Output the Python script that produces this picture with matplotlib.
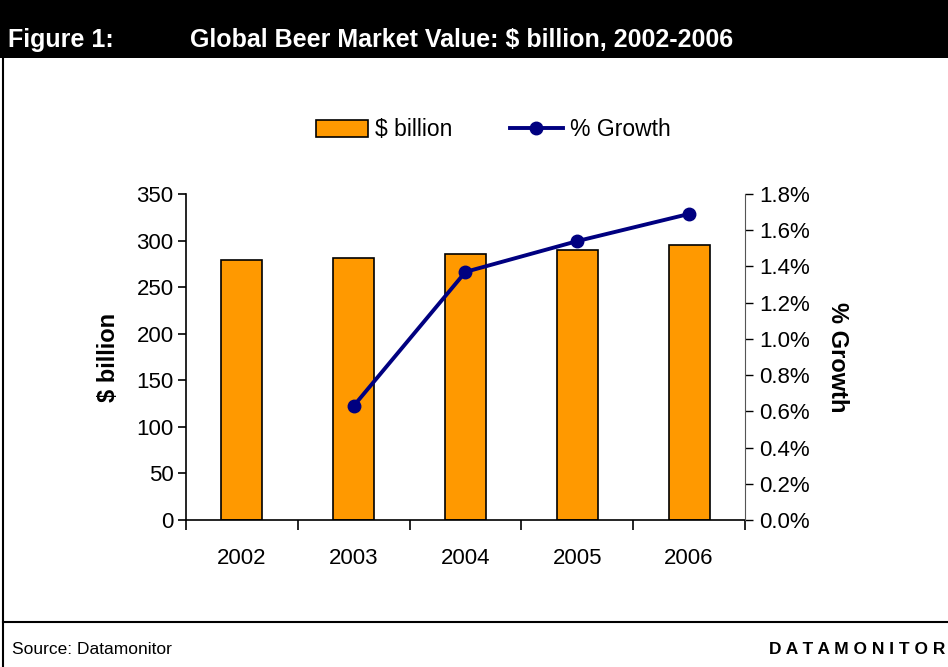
import matplotlib.pyplot as plt
from matplotlib.lines import Line2D
from matplotlib.patches import Rectangle
from matplotlib.ticker import FuncFormatter

plt.rcParams['font.family'] = ['Liberation Sans', 'DejaVu Sans']

# data
years = ['2002', '2003', '2004', '2005', '2006']
value_bn = [279.5, 281.5, 285.5, 289.5, 295.5]
growth_years = ['2003', '2004', '2005', '2006']
growth_pct = [0.63, 1.37, 1.54, 1.69]

W, H = 948, 667
fig = plt.figure(figsize=(W / 100, H / 100), dpi=100)

# header bar + frame
fig.patches.append(Rectangle((0, 1 - 58 / H), 1, 58 / H, transform=fig.transFigure,
                             facecolor='black', edgecolor='none', zorder=0))
fig.text(8 / W, 1 - 40 / H, 'Figure 1:', color='white', fontsize=18, fontweight='bold', va='center')
fig.text(190 / W, 1 - 40 / H, 'Global Beer Market Value: $ billion, 2002-2006', color='white',
         fontsize=18, fontweight='bold', va='center')
fig.lines.append(Line2D([3 / W, 3 / W], [0, 1 - 58 / H], transform=fig.transFigure, color='black', lw=1.5))
fig.lines.append(Line2D([3 / W, 1], [1 - 622 / H, 1 - 622 / H], transform=fig.transFigure, color='black', lw=1.5))
fig.text(12 / W, 1 - 650 / H, 'Source: Datamonitor', fontsize=12.5, va='center')
fig.text(945 / W, 1 - 650 / H, 'D A T A M O N I T O R', fontsize=12.5, fontweight='bold',
         va='center', ha='right')

# axes
ax = fig.add_axes([186 / W, 1 - 520 / H, (745 - 186) / W, (520 - 194) / H])
x = list(range(len(years)))
bars = ax.bar(x, value_bn, width=0.365, color='#FF9900', edgecolor='black', linewidth=1.2, zorder=2)
ax.set_xlim(-0.5, len(years) - 0.5)
ax.set_ylim(0, 350)
ax.set_yticks(range(0, 351, 50))
ax.set_xticks(x)
ax.set_xticklabels(years)
ax.set_xticks([i - 0.5 for i in range(len(years) + 1)], minor=True)
ax.tick_params(axis='x', which='major', length=0, pad=20, labelsize=16)
ax.tick_params(axis='x', which='minor', length=7, width=1.2, direction='out')
ax.tick_params(axis='y', length=6, width=1.2, direction='out', labelsize=16, pad=3)
ax.spines['top'].set_visible(False)
ax.spines['right'].set_visible(False)
ax.spines['left'].set_linewidth(1.2)
ax.spines['bottom'].set_linewidth(1.2)
ax.set_ylabel('$ billion', fontsize=17, fontweight='bold', labelpad=12)

ax2 = ax.twinx()
gx = [years.index(y) for y in growth_years]
line, = ax2.plot(gx, growth_pct, color='#000080', lw=2.8, marker='o', markersize=9, zorder=3)
ax2.set_ylim(0, 1.8)
ax2.set_yticks([i * 0.2 for i in range(10)])
ax2.yaxis.set_major_formatter(FuncFormatter(lambda v, p: f'{v:.1f}%'))
ax2.tick_params(axis='y', length=6, width=1, direction='out', labelsize=16, pad=4, colors='black')
ax2.spines['top'].set_visible(False)
ax2.spines['left'].set_visible(False)
ax2.spines['bottom'].set_visible(False)
ax2.spines['right'].set_color('#555555')
ax2.set_ylabel('% Growth', fontsize=17, fontweight='bold', rotation=-90, labelpad=28)

fig.legend([bars, line], ['$ billion', '% Growth'], loc='center', ncol=2,
           bbox_to_anchor=(493 / W, 1 - 130 / H), frameon=False, fontsize=16.5,
           handlelength=2.3, handleheight=0.7, columnspacing=2.5, handletextpad=0.3)

fig.savefig('out.png', dpi=100)
